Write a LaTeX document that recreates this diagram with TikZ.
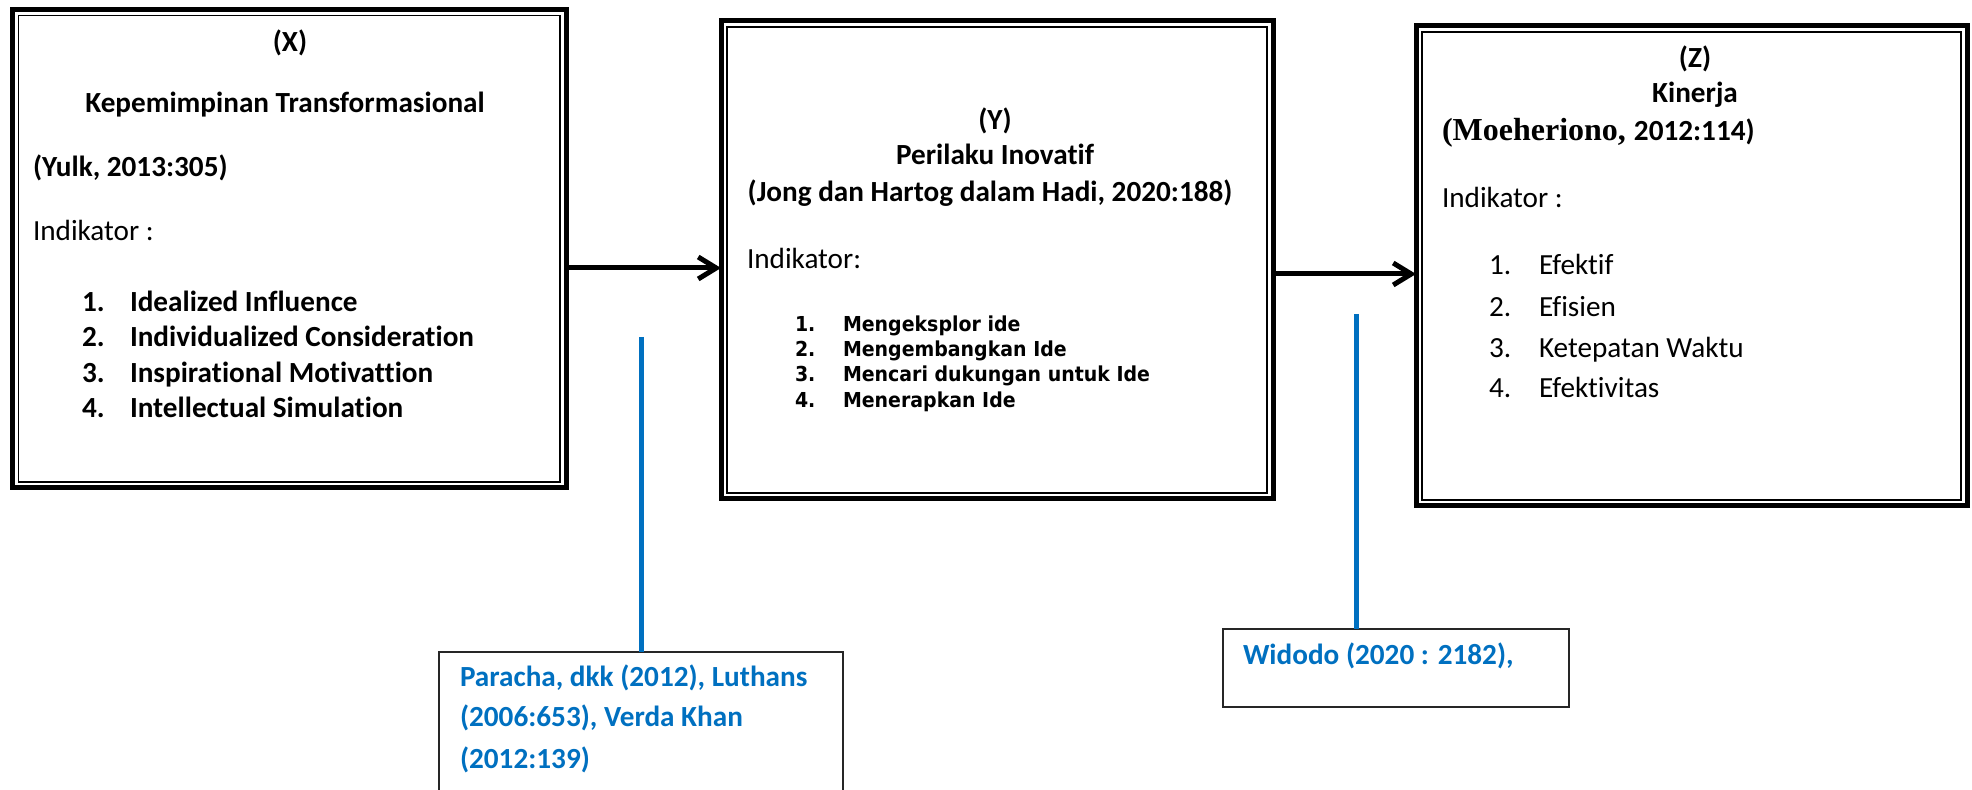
\documentclass[tikz,border=0pt]{standalone}
\usepackage{fontspec}
\setmainfont{Carlito}[Ligatures=NoCommon]
\newfontfamily\condfont[FakeStretch=0.92]{DejaVu Sans}
\newfontfamily\timesf{Liberation Serif}
\usetikzlibrary{arrows.meta}
\definecolor{refblue}{RGB}{0,112,192}
\begin{document}
\begin{tikzpicture}[x=0.5pt,y=-0.5pt,
 framebox/.style={draw=black, line width=2.5pt, inner sep=0pt, outer sep=0pt, anchor=north west},
 innerline/.style={draw=black, line width=0.7pt},
 noteframe/.style={draw=black!85, line width=0.8pt, inner sep=0pt, outer sep=0pt, anchor=north west, fill=white},
 lbl/.style={inner sep=0pt, outer sep=0pt, text height=0.7em, text depth=0.2em, font=\fontsize{14.6}{17}\selectfont},
 lblb/.style={lbl, font=\bfseries\fontsize{14.6}{17}\selectfont},
 ylist/.style={lbl, font=\condfont\bfseries\fontsize{10.3}{12}\selectfont},
 note/.style={lbl, font=\bfseries\fontsize{14.6}{17}\selectfont, text=refblue},
 flow/.style={line width=2.5pt, -{Straight Barb[length=9pt,width=11pt]}},
 callline/.style={draw=refblue, line width=2.5pt},
]
\useasboundingbox (0,0) rectangle (1972,790);

% main boxes
\node[framebox, minimum width=276.75pt, minimum height=239.25pt] (X) at (12.5,9.5) {};
\node[framebox, minimum width=276pt, minimum height=239pt] (Y) at (721,21) {};
\node[framebox, minimum width=275.5pt, minimum height=240pt] (Z) at (1416,26) {};
\foreach \b in {X,Y,Z}{
  \draw[innerline] ([shift={(3pt,-3pt)}]\b.north west) rectangle ([shift={(-3pt,3pt)}]\b.south east);
}

% X content
\node[lblb] (x1) at (290,47) {(X)};
\node[lblb] (x2) at (285,108) {Kepemimpinan Transformasional};
\node[lblb, anchor=west] (x3) at (33,172) {(Yulk, 2013:305)};
\node[lbl, anchor=west] (x4) at (33,236) {Indikator :};
\node[lblb, anchor=west] (xn1) at (82,307) {1.};
\node[lblb, anchor=west] (xi1) at (130,307) {Idealized Influence};
\node[lblb, anchor=west] (xn2) at (82,342) {2.};
\node[lblb, anchor=west] (xi2) at (130,342) {Individualized Consideration};
\node[lblb, anchor=west] (xn3) at (82,378) {3.};
\node[lblb, anchor=west] (xi3) at (130,378) {Inspirational Motivattion};
\node[lblb, anchor=west] (xn4) at (82,413) {4.};
\node[lblb, anchor=west] (xi4) at (130,413) {Intellectual Simulation};

% Y content
\node[lblb] (y1) at (995,125) {(Y)};
\node[lblb] (y2) at (995,160) {Perilaku Inovatif};
\node[lblb] (y3) at (990,197) {(Jong dan Hartog dalam Hadi, 2020:188)};
\node[lbl, anchor=west] (y4) at (747,264) {Indikator:};
\node[ylist, anchor=west] (yn1) at (795,327) {1.};
\node[ylist, anchor=west] (yi1) at (843,327) {Mengeksplor ide};
\node[ylist, anchor=west] (yn2) at (795,352) {2.};
\node[ylist, anchor=west] (yi2) at (843,352) {Mengembangkan Ide};
\node[ylist, anchor=west] (yn3) at (795,377) {3.};
\node[ylist, anchor=west] (yi3) at (843,377) {Mencari dukungan untuk Ide};
\node[ylist, anchor=west] (yn4) at (795,403) {4.};
\node[ylist, anchor=west] (yi4) at (843,403) {Menerapkan Ide};

% Z content
\node[lblb] (z1) at (1695,63) {(Z)};
\node[lblb] (z2) at (1695,98) {Kinerja};
\node[lblb, anchor=west] (z3) at (1442,136) {{\timesf\fontsize{16}{18}\selectfont(Moeheriono, }2012:114)};
\node[lbl, anchor=west] (z4) at (1442,203) {Indikator :};
\node[lbl, anchor=west] (zn1) at (1489,270) {1.};
\node[lbl, anchor=west] (zi1) at (1539,270) {Efektif};
\node[lbl, anchor=west] (zn2) at (1489,312) {2.};
\node[lbl, anchor=west] (zi2) at (1539,312) {Efisien};
\node[lbl, anchor=west] (zn3) at (1489,353) {3.};
\node[lbl, anchor=west] (zi3) at (1539,353) {Ketepatan Waktu};
\node[lbl, anchor=west] (zn4) at (1489,393) {4.};
\node[lbl, anchor=west] (zi4) at (1539,393) {Efektivitas};

% arrows between boxes
\coordinate (ax) at (0,268);
\draw[flow] (X.east |- ax) -- (Y.west |- ax);
\coordinate (ay) at (0,274);
\draw[flow] (Y.east |- ay) -- (Z.west |- ay);

% callouts
\node[noteframe, minimum width=202pt, minimum height=80pt] (N1) at (439,652) {};
\node[noteframe, minimum width=173pt, minimum height=39pt] (N2) at (1223,629) {};
\coordinate (t1) at (641,337);
\draw[callline] (t1) -- (t1 |- N1.north);
\coordinate (t2) at (1356,314);
\draw[callline] (t2) -- (t2 |- N2.north);

\node[note, anchor=west] (n11) at (460,682) {Paracha, dkk (2012), Luthans};
\node[note, anchor=west] (n12) at (460,722) {(2006:653), Verda Khan};
\node[note, anchor=west] (n13) at (460,764) {(2012:139)};
\node[note, anchor=west] (n21) at (1243,660) {Widodo (2020 : 2182),};
\end{tikzpicture}
\end{document}
